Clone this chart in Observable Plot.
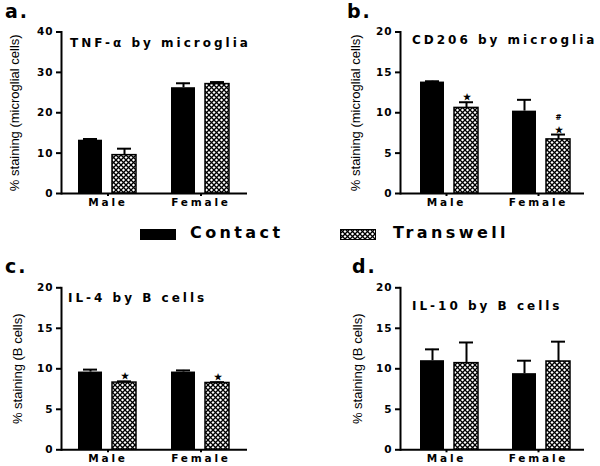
<!DOCTYPE html>
<html>
<head>
<meta charset="utf-8">
<script src="https://cdn.jsdelivr.net/npm/d3@7"></script>
<script src="https://cdn.jsdelivr.net/npm/@observablehq/plot@0.6"></script>
<style>
  body { margin: 0; background: #fff; }
  #fig { position: relative; width: 600px; height: 466px; overflow: hidden; background: #fff; font-family: "DejaVu Sans", sans-serif; color: #000; }
  .panel { position: absolute; }
  .lbl { position: absolute; font-weight: bold; line-height: 1; white-space: nowrap; }
  .panel svg g[aria-label="y-axis tick label"] text,
  .panel svg g[aria-label="fx-axis tick label"] text { font-family: "DejaVu Sans", sans-serif; font-weight: bold; font-size: 10.5px; fill: #000; }
  .panel svg g[aria-label="y-axis tick label"] text { letter-spacing: 1px; }
  .panel svg g[aria-label="fx-axis tick label"] text { letter-spacing: 2.8px; }
  .panel svg g[aria-label="y-axis label"] text { font-family: "Liberation Sans", Arial, sans-serif; font-weight: normal; font-size: 13px; letter-spacing: 0; fill: #000; }
  .sw { position: absolute; }
</style>
</head>
<body>
<svg width="0" height="0" style="position:absolute">
  <defs>
    <pattern id="xhatch" patternUnits="userSpaceOnUse" width="5" height="5">
      <rect width="5" height="5" fill="white"/>
      <path d="M0,0L5,5M5,0L0,5" stroke="black" stroke-width="1.3"/>
    </pattern>
  </defs>
</svg>
<div id="fig"></div>
<script>
// ---- data ----
const sexes = ["Male", "Female"];
const conditions = ["Contact", "Transwell"];
// order: Male-Contact, Male-Transwell, Female-Contact, Female-Transwell
const tnfMean = [13.2, 9.5, 26.2, 27.1];
const tnfErr = [0.3, 1.6, 1.1, 0.5];
const cd206Mean = [13.8, 10.6, 10.2, 6.7];
const cd206Err = [0.1, 0.7, 1.4, 0.6];
const cd206Marks = ["", "★", "", "#\n★"];
const il4Mean = [9.6, 8.3, 9.6, 8.25];
const il4Err = [0.3, 0.15, 0.2, 0.1];
const il4Marks = ["", "★", "", "★"];
const il10Mean = [11.0, 10.7, 9.4, 10.9];
const il10Err = [1.4, 2.55, 1.6, 2.45];
const ticks40 = [0, 10, 20, 30, 40];
const ticks20 = [0, 5, 10, 15, 20];
const labelMicroglia = "% staining (microglial cells)";
const labelB = "% staining (B cells)";
const titles = ["TNF-α by microglia", "CD206 by microglia", "IL-4 by B cells", "IL-10 by B cells"];
const letters = ["a.", "b.", "c.", "d."];
const legendNames = ["Contact", "Transwell"];

const fig = document.getElementById("fig");

function makePanel(spec) {
  const rows = [];
  sexes.forEach((s, i) => conditions.forEach((c, j) => {
    const k = i * 2 + j;
    rows.push({sex: s, cond: c, mean: spec.mean[k], err: spec.err[k], mark: spec.marks ? spec.marks[k] : ""});
  }));
  const top = d => d.mean + d.err;
  const plot = Plot.plot({
    width: spec.width, height: spec.height,
    marginLeft: spec.ml, marginRight: spec.mr, marginTop: spec.mt, marginBottom: spec.mb,
    style: {background: "transparent", color: "black", overflow: "visible"},
    fx: {domain: sexes, padding: 0, label: null},
    x: {domain: conditions, axis: null, paddingInner: 0.29, paddingOuter: 0.48, align: spec.align},
    y: {domain: [0, spec.yMax]},
    marks: [
      Plot.barY(rows, {filter: d => d.cond === "Contact", fx: "sex", x: "cond", y: "mean", fill: "black"}),
      Plot.barY(rows, {filter: d => d.cond === "Transwell", fx: "sex", x: "cond", y: "mean", fill: "url(#xhatch)", stroke: "black", strokeWidth: 1.5}),
      Plot.ruleX(rows, {fx: "sex", x: "cond", y1: "mean", y2: top, strokeWidth: 2}),
      Plot.tickY(rows, {fx: "sex", x: "cond", y: top, strokeWidth: 2, insetLeft: 5, insetRight: 5}),
      Plot.text(rows.filter(d => d.mark), {fx: "sex", x: "cond", y: top, text: "mark", dy: -2, lineAnchor: "bottom", lineHeight: 1.45, fontSize: 8.5, fontWeight: "bold"}),
      Plot.ruleY([0], {strokeWidth: 2}),
      Plot.frame({anchor: "left", facetAnchor: "left", strokeWidth: 2}),
      Plot.axisY({ticks: spec.ticks, tickSize: 5, tickPadding: 3, strokeWidth: 2, label: spec.label, labelAnchor: "center", labelArrow: "none", labelOffset: spec.lo}),
      Plot.axisFx({anchor: "bottom", tickSize: 3, tickPadding: 2, strokeWidth: 2, label: null})
    ]
  });
  const div = document.createElement("div");
  div.className = "panel";
  div.style.left = spec.left + "px";
  div.style.top = spec.top + "px";
  div.appendChild(plot);
  fig.appendChild(div);
}

makePanel({left: 0, top: 0, width: 300, height: 215, ml: 60, mr: 53, mt: 31.5, mb: 22, align: 0.5,
  mean: tnfMean, err: tnfErr, yMax: 40, ticks: ticks40, label: labelMicroglia, lo: 52});
makePanel({left: 300, top: 0, width: 300, height: 215, ml: 100, mr: 16, mt: 31.5, mb: 22, align: 0.6,
  mean: cd206Mean, err: cd206Err, marks: cd206Marks, yMax: 20, ticks: ticks20, label: labelMicroglia, lo: 50});
makePanel({left: 0, top: 245, width: 300, height: 221, ml: 61, mr: 53, mt: 42.3, mb: 16.7, align: 0.5,
  mean: il4Mean, err: il4Err, marks: il4Marks, yMax: 20, ticks: ticks20, label: labelB, lo: 49});
makePanel({left: 300, top: 245, width: 300, height: 221, ml: 100, mr: 16, mt: 42.3, mb: 16.7, align: 0.6,
  mean: il10Mean, err: il10Err, yMax: 20, ticks: ticks20, label: labelB, lo: 48});

// ---- text overlays ----
function addText(str, left, baseline, fs, ls) {
  const el = document.createElement("div");
  el.className = "lbl";
  el.textContent = str;
  el.style.left = left + "px";
  el.style.top = (baseline - 0.846 * fs) + "px";
  el.style.fontSize = fs + "px";
  el.style.letterSpacing = ls + "px";
  fig.appendChild(el);
}
const titlePos = [[70, 47], [412, 44], [68, 302], [412, 310]];
titles.forEach((t, i) => addText(t, titlePos[i][0], titlePos[i][1], 12, 3));
const letterPos = [[5, 18.5], [347, 18.5], [5, 273], [352, 273]];
letters.forEach((t, i) => addText(t, letterPos[i][0], letterPos[i][1], 19, 2));

// ---- legend ----
const swPos = [140, 340];
const txPos = [190, 393];
legendNames.forEach((name, i) => {
  const sw = document.createElementNS("http://www.w3.org/2000/svg", "svg");
  sw.setAttribute("class", "sw");
  sw.setAttribute("width", 37);
  sw.setAttribute("height", 11);
  sw.style.left = swPos[i] + "px";
  sw.style.top = "229px";
  const r = document.createElementNS("http://www.w3.org/2000/svg", "rect");
  r.setAttribute("x", 0.5); r.setAttribute("y", 0.5);
  r.setAttribute("width", 35); r.setAttribute("height", 10);
  r.setAttribute("fill", i === 0 ? "black" : "url(#xhatch)");
  r.setAttribute("stroke", "black");
  sw.appendChild(r);
  fig.appendChild(sw);
  addText(name, txPos[i], 239, 16, 3.4);
});
</script>
</body>
</html>
